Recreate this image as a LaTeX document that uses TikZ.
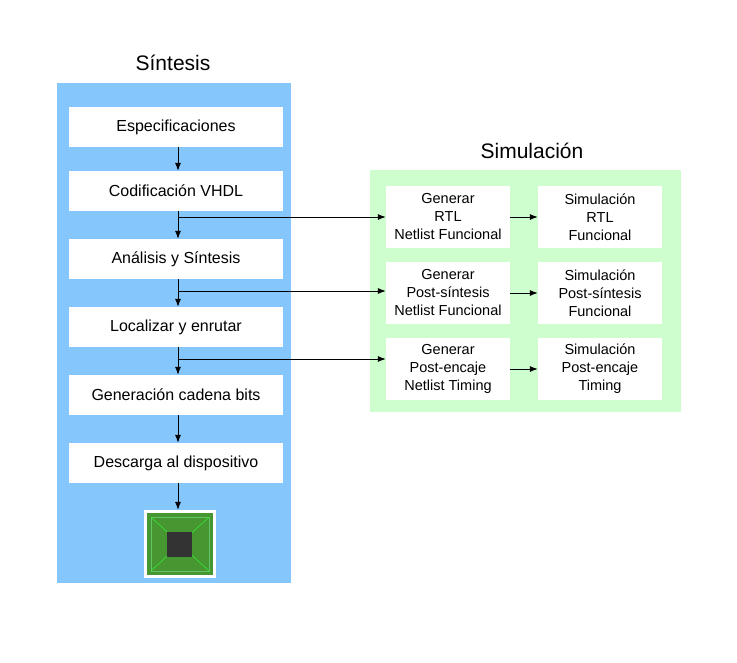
\documentclass[tikz,border=0pt]{standalone}
\usepackage{fontspec}
\setmainfont{Liberation Sans}
\usetikzlibrary{arrows.meta,positioning}
\definecolor{synblue}{RGB}{133,199,253}
\definecolor{simgreen}{RGB}{206,253,206}
\definecolor{pcbgreen}{RGB}{70,150,50}
\tikzset{
  synstep/.style={fill=white,minimum width=214pt,minimum height=40pt,inner sep=0pt,font=\fontsize{16}{18}\selectfont},
  sim/.style={fill=white,minimum width=124pt,minimum height=62pt,inner sep=0pt,align=center,font=\fontsize{14.5}{18}\selectfont},
  flow/.style={-{Latex[length=8pt,width=6pt]},thick}
}
\begin{document}
\begin{tikzpicture}[x=1pt,y=-1pt]
  \useasboundingbox (0,0) rectangle (737,662);
  % panels
  \fill[synblue] (57,83) rectangle (291,583);
  \fill[simgreen] (370,170) rectangle (681,412);
  \node[font=\fontsize{21}{24}\selectfont] (syntitle) at (173,63) {Síntesis};
  \node[font=\fontsize{21}{24}\selectfont] (simtitle) at (532,151) {Simulación};
  % synthesis steps
  \node[synstep] (esp) at (176,127) {Especificaciones};
  \node[synstep] (cod) at (176,191) {Codificación VHDL};
  \node[synstep] (ana) at (176,259) {Análisis y Síntesis};
  \node[synstep] (loc) at (176,327) {Localizar y enrutar};
  \node[synstep] (gen) at (176,395) {Generación cadena bits};
  \node[synstep] (des) at (176,463) {Descarga al dispositivo};
  % chip
  \node[fill=white,minimum width=72pt,minimum height=68pt,inner sep=0pt] (chip) at (180,544) {};
  \fill[pcbgreen] (147,513) rectangle (213,575);
  \draw[green!60!black!60,thin] (151,517) rectangle (209,571);
  \draw[green!80!white,thin] (151,517) -- (209,571) (209,517) -- (151,571);
  \fill[black!80] (167,532) rectangle (192,557);
  % simulation boxes
  \node[sim] (g1) at (448,217) {Generar\\RTL\\Netlist Funcional};
  \node[sim] (g2) at (448,293) {Generar\\Post-síntesis\\Netlist Funcional};
  \node[sim] (g3) at (448,369) {Generar\\Post-encaje\\Netlist Timing};
  \node[sim] (s1) at (600,217) {Simulación\\RTL\\Funcional};
  \node[sim] (s2) at (600,293) {Simulación\\Post-síntesis\\Funcional};
  \node[sim] (s3) at (600,369) {Simulación\\Post-encaje\\Timing};
  % flow arrows
  \foreach \a/\b in {esp/cod,cod/ana,ana/loc,loc/gen,gen/des}
    \draw[flow] ([xshift=2pt]\a.south) -- ([xshift=2pt]\b.north);
  \draw[flow] ([xshift=2pt]des.south) -- ([xshift=-2pt]chip.north);
  \foreach \a/\b in {g1/s1,g2/s2,g3/s3}
    \draw[flow] (\a) -- (\b);
  % branches
  \coordinate (b1) at (178,217);
  \coordinate (b2) at (178,291);
  \coordinate (b3) at (178,359);
  \draw[flow] (b1) -- (g1.west);
  \draw[flow] (b2) -- (g2.west |- b2);
  \draw[flow] (b3) -- (g3.west |- b3);
\end{tikzpicture}
\end{document}
